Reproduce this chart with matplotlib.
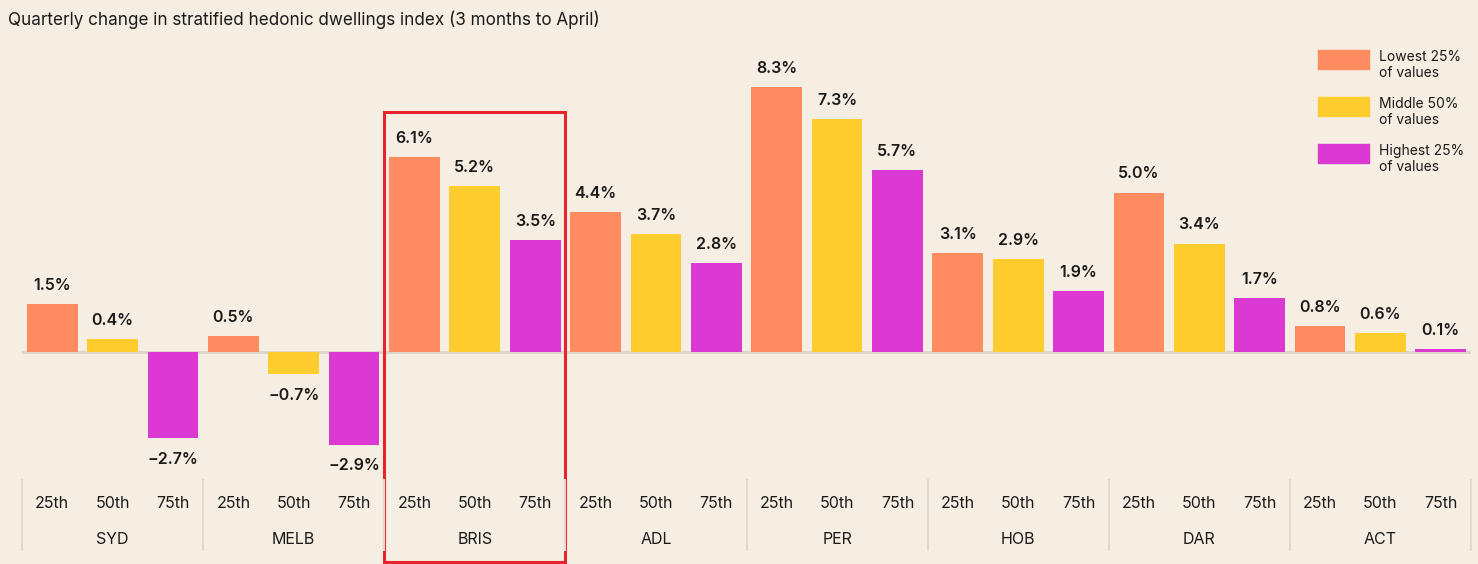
import numpy as np
import matplotlib.pyplot as plt
from matplotlib.patches import Rectangle
from matplotlib.transforms import blended_transform_factory

cities = ["SYD", "MELB", "BRIS", "ADL", "PER", "HOB", "DAR", "ACT"]
pctls = ["25th", "50th", "75th"]
lowest = [1.5, 0.5, 6.1, 4.4, 8.3, 3.1, 5.0, 0.8]
middle = [0.4, -0.7, 5.2, 3.7, 7.3, 2.9, 3.4, 0.6]
highest = [-2.7, -2.9, 3.5, 2.8, 5.7, 1.9, 1.7, 0.1]
legend_labels = ["Lowest 25%\nof values", "Middle 50%\nof values", "Highest 25%\nof values"]
colors = ["#FF8C61", "#FFCC2E", "#DC38D2"]
highlight = "BRIS"

bg = "#F6EEE2"
plt.rcParams["font.family"] = ["Inter", "DejaVu Sans"]

fig = plt.figure(figsize=(14.78, 5.64), dpi=100, facecolor=bg)
ax = fig.add_axes([22 / 1478, 1 - 470 / 564, (1471 - 22) / 1478, 430 / 564])
ax.set_facecolor(bg)

n = len(cities)
series = [lowest, middle, highest]
for g in range(n):
    for s in range(3):
        x = g * 3 + s + 0.5
        v = series[s][g]
        ax.bar(x, v, width=0.84, color=colors[s], zorder=2)
        lbl = f"{v:.1f}%".replace("-", "\u2212")
        if v >= 0:
            ax.annotate(lbl, (x, v), xytext=(0, 8), textcoords="offset points",
                        ha="center", va="bottom", fontsize=11.5, fontweight="semibold", color="#1a1a1a")
        else:
            ax.annotate(lbl, (x, v), xytext=(0, -10), textcoords="offset points",
                        ha="center", va="top", fontsize=11.5, fontweight="semibold", color="#1a1a1a")

ax.set_xlim(0, n * 3)
ax.set_ylim(-(470 - 352) / 31.9, (352 - 40) / 31.9)
ax.axhline(0, color="#DDD5CA", lw=2, zorder=1)
ax.axis("off")

# category labels under the plot
tr = blended_transform_factory(ax.transData, fig.transFigure)
for g, city in enumerate(cities):
    for s, p in enumerate(pctls):
        fig.text(g * 3 + s + 0.5, 1 - 503 / 564, p, transform=tr, ha="center", va="center",
                 fontsize=11.5, color="#1a1a1a")
    fig.text(g * 3 + 1.5, 1 - 539 / 564, city, transform=tr, ha="center", va="center",
             fontsize=11.5, color="#1a1a1a")
for g in range(n + 1):
    fig.add_artist(plt.Line2D([g * 3, g * 3], [1 - 480 / 564, 1 - 550 / 564], transform=tr,
                              color="#E2DACF", lw=1.5))

# highlight box
hi = cities.index(highlight)
fig.add_artist(Rectangle((hi * 3, 1 - 562 / 564), 3, (562 - 112) / 564, transform=tr,
                         fill=False, edgecolor="#E8232B", lw=2.2))

fig.text(8 / 1478, 1 - 20 / 564, "Quarterly change in stratified hedonic dwellings index (3 months to April)",
         ha="left", va="center", fontsize=12.3, color="#1a1a1a")

# legend
for i, (lab, c) in enumerate(zip(legend_labels, colors)):
    ytop = 50 + i * 47
    fig.add_artist(Rectangle((1318 / 1478, 1 - (ytop + 19) / 564), 51 / 1478, 19 / 564,
                             transform=fig.transFigure, color=c))
    fig.text(1379 / 1478, 1 - (ytop + 15) / 564, lab, ha="left", va="center",
             fontsize=10, color="#1a1a1a", linespacing=1.15)

fig.savefig("out.png", dpi=100, facecolor=bg)
